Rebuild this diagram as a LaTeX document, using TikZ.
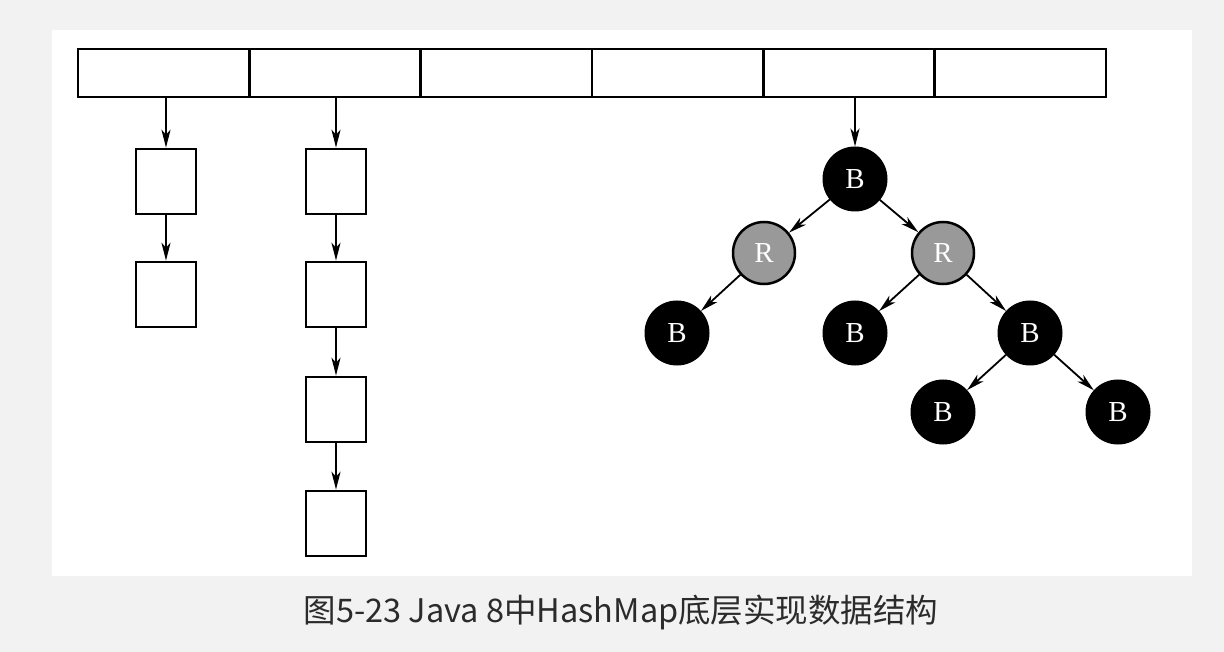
\documentclass[tikz,border=0pt]{standalone}
\usepackage{fontspec}
\setmainfont{Liberation Serif}
\newfontfamily\cjk{Noto Sans CJK SC}
\usetikzlibrary{arrows.meta}
\definecolor{pagebg}{HTML}{F2F2F2}
\definecolor{redgray}{HTML}{999999}
\definecolor{captext}{HTML}{2B2B2B}
\tikzset{
  cell/.style={draw=black, line width=2.6pt, minimum width=171.33pt, minimum height=48pt, inner sep=0pt, fill=white},
  lbox/.style={draw=black, line width=2.6pt, minimum width=60pt, minimum height=65pt, inner sep=0pt},
  bnode/.style={circle, fill=black, draw=black, line width=1pt, minimum size=64pt, inner sep=0pt, text=white, font=\fontsize{29}{29}\selectfont},
  rnode/.style={circle, fill=redgray, draw=black, line width=2.5pt, minimum size=62pt, inner sep=0pt, text=white, font=\fontsize{29}{29}\selectfont},
  arr/.style={line width=1.8pt, -{Stealth[length=18pt,width=9pt,inset=5pt]}},
}
\begin{document}
\begin{tikzpicture}[x=1pt,y=-1pt]
\useasboundingbox (0,0) rectangle (1224,652);
\fill[pagebg] (0,0) rectangle (1224,652);
\fill[white] (52,30) rectangle (1192,576);
% array
\node[cell] (c1) at (163.67,73) {};
\node[cell] (c2) at (335,73) {};
\node[cell] (c3) at (506.33,73) {};
\node[cell] (c4) at (677.67,73) {};
\node[cell] (c5) at (849,73) {};
\node[cell] (c6) at (1020.33,73) {};
% list 1
\node[lbox] (a1) at (166,181.5) {};
\node[lbox] (a2) at (166,294.5) {};
% list 2
\node[lbox] (b1) at (336,181.5) {};
\node[lbox] (b2) at (336,294.5) {};
\node[lbox] (b3) at (336,409.5) {};
\node[lbox] (b4) at (336,523.5) {};
\draw[arr] (c1.south -| a1.north) -- (a1.north);
\draw[arr] (a1) -- (a2);
\draw[arr] (c2.south -| b1.north) -- (b1.north);
\draw[arr] (b1) -- (b2);
\draw[arr] (b2) -- (b3);
\draw[arr] (b3) -- (b4);
% tree
\node[bnode] (t1) at (855,179) {B};
\node[rnode] (t2) at (764,253) {R};
\node[rnode] (t3) at (943,253) {R};
\node[bnode] (t4) at (677,333) {B};
\node[bnode] (t5) at (855,333) {B};
\node[bnode] (t6) at (1030,333) {B};
\node[bnode] (t7) at (943,412) {B};
\node[bnode] (t8) at (1118,412) {B};
\draw[arr] (c5.south -| t1.north) -- (t1.north);
\draw[arr] (t1) -- (t2);
\draw[arr] (t1) -- (t3);
\draw[arr] (t2) -- (t4);
\draw[arr] (t3) -- (t5);
\draw[arr] (t3) -- (t6);
\draw[arr] (t6) -- (t7);
\draw[arr] (t6) -- (t8);
% caption
\node[text=captext, font=\cjk\fontsize{32.5}{33}\selectfont] (cap) at (621,612) {图5-23 Java 8中HashMap底层实现数据结构};
\end{tikzpicture}
\end{document}
